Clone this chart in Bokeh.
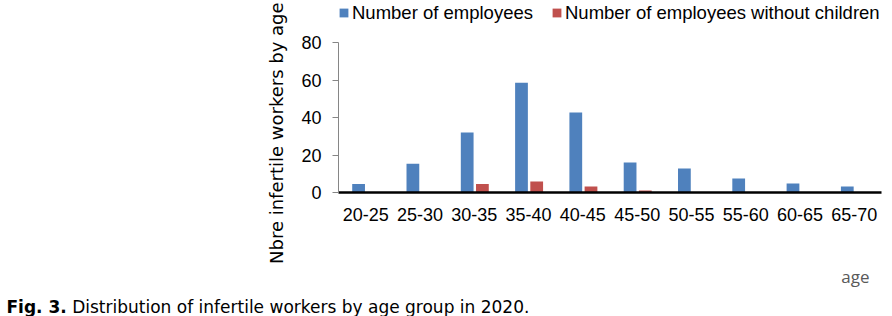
import math
from bokeh.plotting import figure
from bokeh.layouts import column, row
from bokeh.models import (Legend, LegendItem, Label, FactorRange, Range1d,
                          FixedTicker, ColumnDataSource)
from bokeh.transform import dodge
from bokeh.embed import file_html
from bokeh.resources import INLINE

# ---- data ----
age_groups = ["20-25", "25-30", "30-35", "35-40", "40-45",
              "45-50", "50-55", "55-60", "60-65", "65-70"]
employees = [4.6, 15.3, 32, 58.5, 42.7, 16, 12.8, 7.5, 4.8, 3.2]
without_children = [0, 0, 4.6, 5.9, 3.2, 1.1, 0, 0, 0, 0]
y_ticks = [0, 20, 40, 60, 80]
y_axis_max = 80
series_names = ["Number of employees", "Number of employees without children"]
y_title = "Nbre infertile workers by age"
x_title = "age"
caption_bold = "Fig. 3."
caption_text = "Distribution of infertile workers by age group in 2020."

BLUE = "#4F81BD"
RED = "#C0504D"

W, H = 892, 316
TOP_H = 264
LEFT_W = 298
FRAME_BOTTOM = 192          # px from top of the main figure
PX_PER_UNIT = 150 / 80      # vertical scale of the reference


def no_align(f):
    if "frame_align" in f.properties():
        f.frame_align = False
    return f


def text_canvas(w, h):
    f = figure(width=w, height=h, x_range=Range1d(0, w), y_range=Range1d(0, h),
               output_backend="svg", toolbar_location=None,
               x_axis_location=None, y_axis_location=None, min_border=0)
    f.grid.visible = False
    f.outline_line_color = None
    f.background_fill_color = "white"
    f.border_fill_color = "white"
    return no_align(f)


# ---- main chart ----
src = ColumnDataSource(dict(age=age_groups, emp=employees, woc=without_children))

p = figure(x_range=FactorRange(factors=age_groups, range_padding=0),
           y_range=Range1d(0, FRAME_BOTTOM / PX_PER_UNIT),
           width=W - LEFT_W, height=TOP_H,
           output_backend="svg", toolbar_location=None,
           min_border_left=35, min_border_right=11,
           min_border_top=0, min_border_bottom=TOP_H - FRAME_BOTTOM)
no_align(p)

r1 = p.vbar(x=dodge("age", -0.13, range=p.x_range), top="emp", width=0.235,
            source=src, fill_color=BLUE, line_color=None)
r2 = p.vbar(x=dodge("age", 0.15, range=p.x_range), top="woc", width=0.235,
            source=src, fill_color=RED, line_color=None)

p.xgrid.visible = False
p.ygrid.visible = False
p.outline_line_color = None
p.background_fill_color = "white"
p.border_fill_color = "white"

xa = p.xaxis[0]
xa.axis_line_color = "black"
xa.axis_line_width = 2.5
xa.major_tick_line_color = None
xa.minor_tick_line_color = None
xa.major_label_standoff = 9
xa.major_label_text_font = "Liberation Sans"
xa.major_label_text_font_size = "18px"
xa.major_label_text_color = "black"

ya = p.yaxis[0]
ya.ticker = FixedTicker(ticks=y_ticks)
ya.bounds = (0, y_axis_max)
ya.axis_line_color = "#868686"
ya.axis_line_width = 1
ya.major_tick_line_color = "#868686"
ya.major_tick_out = 6
ya.major_tick_in = 0
ya.minor_tick_line_color = None
ya.major_label_standoff = 11
ya.major_label_text_font = "Liberation Sans"
ya.major_label_text_font_size = "18px"
ya.major_label_text_color = "black"

legend = Legend(items=[LegendItem(label=series_names[0], renderers=[r1]),
                       LegendItem(label=series_names[1], renderers=[r2])],
                orientation="horizontal", location=(0, 168.5),
                glyph_width=11, glyph_height=11, label_standoff=3, spacing=18,
                padding=0, margin=0, label_height=19,
                label_text_font="Liberation Sans", label_text_font_size="18.5px",
                label_text_color="black",
                background_fill_alpha=0, border_line_color=None)
p.add_layout(legend)

# ---- y title ----
left = text_canvas(LEFT_W, TOP_H)
left.add_layout(Label(x=276, y=0.5, x_units="screen", y_units="screen", text=y_title,
                      angle=math.pi / 2, text_align="left", text_baseline="alphabetic",
                      text_font="DejaVu Sans", text_font_size="18px",
                      text_color="black"))

# ---- bottom: x title + caption ----
BOT_H = H - TOP_H
bottom = text_canvas(W, BOT_H)
bottom.add_layout(Label(x=840.7, y=H - 276, x_units="screen", y_units="screen", text=x_title,
                        text_align="left", text_baseline="alphabetic",
                        text_font="Open Sans", text_font_size="17px",
                        text_color="#595959"))
bottom.add_layout(Label(x=6, y=H - 306, x_units="screen", y_units="screen", text=caption_bold,
                        text_align="left", text_baseline="alphabetic",
                        text_font="DejaVu Sans", text_font_style="bold",
                        text_font_size="17px", text_color="black"))
bottom.add_layout(Label(x=71.7, y=H - 306, x_units="screen", y_units="screen", text=caption_text,
                        text_align="left", text_baseline="alphabetic",
                        text_font="DejaVu Sans", text_font_size="17px",
                        text_color="black"))

layout = column(row(left, p, spacing=0), bottom, spacing=0)
open("out.html", "w").write(file_html(layout, INLINE))
